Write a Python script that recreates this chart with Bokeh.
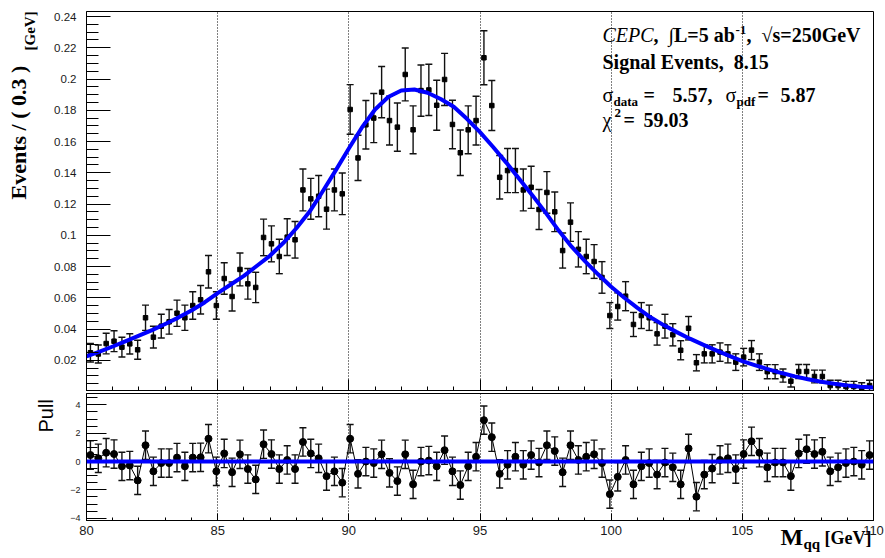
import numpy as np
from bokeh.plotting import figure
from bokeh.layouts import column
from bokeh.models import (Label, Span, Range1d, SingleIntervalTicker,
                          NumeralTickFormatter, ColumnDataSource,
                          CustomLabelingPolicy)
from bokeh.embed import file_html
from bokeh.resources import INLINE

# ---------------- data ----------------
bin_width = 0.3
mass_low = 80.0
mass_bins = np.round(mass_low + bin_width * (np.arange(100) + 0.5), 3)

events = [
    0.0248, 0.0240, 0.0307, 0.0322, 0.0284, 0.0305, 0.0267, 0.0472, 0.0348, 0.0418,
    0.0446, 0.0501, 0.0472, 0.0550, 0.0587, 0.0766, 0.0550, 0.0723, 0.0608, 0.0781,
    0.0689, 0.0666, 0.0986, 0.0945, 0.0864, 0.0988, 0.0971, 0.1290, 0.1233, 0.1250,
    0.1167, 0.1290, 0.1265, 0.1805, 0.1495, 0.1707, 0.1750, 0.1916, 0.1734, 0.1692,
    0.2029, 0.1675, 0.1926, 0.1930, 0.1832, 0.1997, 0.1709, 0.1528, 0.1675, 0.1734,
    0.2136, 0.1830, 0.1371, 0.1414, 0.1414, 0.1290, 0.1307, 0.1165, 0.1274, 0.1150,
    0.0902, 0.1084, 0.0910, 0.0864, 0.0832, 0.0730, 0.0486, 0.0544, 0.0610, 0.0429,
    0.0486, 0.0472, 0.0369, 0.0418, 0.0363, 0.0264, 0.0405, 0.0184, 0.0241, 0.0241,
    0.0252, 0.0241, 0.0188, 0.0220, 0.0265, 0.0188, 0.0127, 0.0127, 0.0102, 0.0066,
    0.0128, 0.0128, 0.0096, 0.0096, 0.0038, 0.0038, 0.0032, 0.0032, 0.0024, 0.0038,
]

errors = [
    0.0059, 0.0058, 0.0066, 0.0067, 0.0063, 0.0065, 0.0061, 0.0081, 0.0070, 0.0076,
    0.0079, 0.0084, 0.0081, 0.0088, 0.0091, 0.0104, 0.0088, 0.0101, 0.0093, 0.0105,
    0.0098, 0.0097, 0.0117, 0.0115, 0.0110, 0.0118, 0.0117, 0.0134, 0.0131, 0.0132,
    0.0128, 0.0134, 0.0133, 0.0159, 0.0145, 0.0155, 0.0157, 0.0164, 0.0156, 0.0154,
    0.0169, 0.0153, 0.0164, 0.0164, 0.0160, 0.0167, 0.0155, 0.0146, 0.0153, 0.0156,
    0.0173, 0.0160, 0.0139, 0.0141, 0.0141, 0.0134, 0.0135, 0.0128, 0.0133, 0.0127,
    0.0112, 0.0123, 0.0113, 0.0110, 0.0108, 0.0101, 0.0083, 0.0087, 0.0093, 0.0077,
    0.0083, 0.0081, 0.0072, 0.0076, 0.0071, 0.0061, 0.0075, 0.0052, 0.0058, 0.0058,
    0.0059, 0.0058, 0.0053, 0.0056, 0.0061, 0.0053, 0.0045, 0.0045, 0.0042, 0.0037,
    0.0045, 0.0045, 0.0041, 0.0041, 0.0034, 0.0034, 0.0033, 0.0033, 0.0032, 0.0034,
]

pulls = [
    0.46, 0.23, 0.62, 0.53, -0.34, -0.28, -1.33, 1.15, -0.69, -0.11,
    -0.11, 0.28, -0.34, 0.28, 0.30, 1.61, -0.69, 0.57, -0.76, 0.51,
    -0.53, -1.26, 1.22, 0.53, -0.53, 0.11, -0.53, 1.38, 0.57, 0.23,
    -1.03, -0.69, -1.49, 1.61, -0.87, 0.00, -0.11, 0.51, -0.80, -1.38,
    0.51, -1.61, 0.00, 0.07, -0.34, 0.80, -0.69, -1.66, -0.34, 0.34,
    2.92, 1.72, -0.87, -0.23, 0.34, -0.23, 0.46, -0.07, 1.15, 0.74,
    -0.76, 1.15, 0.11, 0.34, 0.51, -0.11, -2.30, -1.08, 0.11, -1.61,
    -0.34, -0.11, -0.92, -0.07, -0.41, -1.61, 0.92, -2.48, -0.92, -0.50,
    0.11, 0.23, -0.53, 0.53, 1.43, 0.62, -0.41, -0.07, -0.07, -1.03,
    0.57, 0.87, 0.53, 0.69, -0.69, -0.41, -0.11, 0.00, -0.23, 0.46,
]
pull_errors = [1.0] * 100

fit_mass = [
    80.0, 80.5, 81.0, 81.5, 82.0, 82.5, 83.0, 83.5, 84.0, 84.5,
    85.0, 85.5, 86.0, 86.5, 87.0, 87.5, 88.0, 88.5, 89.0, 89.5,
    90.0, 90.5, 91.0, 91.5, 92.0, 92.5, 93.0, 93.5, 94.0, 94.5,
    95.0, 95.5, 96.0, 96.5, 97.0, 97.5, 98.0, 98.5, 99.0, 99.5,
    100.0, 100.5, 101.0, 101.5, 102.0, 102.5, 103.0, 103.5, 104.0, 104.5,
    105.0, 105.5, 106.0, 106.5, 107.0, 107.5, 108.0, 108.5, 109.0, 109.5, 110.0,
]
fit_pdf = [
    0.0225, 0.0255, 0.0288, 0.0322, 0.0357, 0.0393, 0.0432, 0.0473, 0.0518, 0.0570,
    0.0630, 0.0685, 0.0740, 0.0805, 0.0870, 0.0950, 0.1045, 0.1150, 0.1280, 0.1415,
    0.1555, 0.1690, 0.1805, 0.1885, 0.1926, 0.1933, 0.1912, 0.1872, 0.1822, 0.1745,
    0.1660, 0.1565, 0.1465, 0.1360, 0.1255, 0.1145, 0.1030, 0.0925, 0.0835, 0.0750,
    0.0670, 0.0600, 0.0535, 0.0475, 0.0425, 0.0380, 0.0338, 0.0300, 0.0263, 0.0228,
    0.0195, 0.0167, 0.0142, 0.0118, 0.0097, 0.0078, 0.0062, 0.0049, 0.0039, 0.0031, 0.0026,
]

x_start, x_end = 80, 110
y_top_max = 0.2432
pull_min, pull_max = -4.16, 4.8

NB = "\u00a0"
SERIF = "Liberation Serif"
SANS = "Liberation Sans"

W = 884
TOP_H = 391       # 11 border + 380 frame
BOT_H = 166       # 2 border + 127 frame + 37 border
H = TOP_H + BOT_H
SHIFT = 0.4       # em offset between requested and drawn baseline


# ---------------- helpers ----------------
def style_axes(p, xmaj, xmin, ymaj, ymin):
    for ax in (p.xaxis[0], p.yaxis[0]):
        ax.axis_line_color = "black"
        ax.axis_line_width = 1
        ax.major_tick_line_color = "black"
        ax.minor_tick_line_color = "black"
        ax.major_tick_out = 0
        ax.minor_tick_out = 0
        ax.major_label_text_font = SANS
        ax.major_label_text_color = "#1a1a1a"
    p.xaxis.major_tick_in = xmaj
    p.xaxis.minor_tick_in = xmin
    p.yaxis.major_tick_in = ymaj
    p.yaxis.minor_tick_in = ymin
    p.xaxis.ticker = SingleIntervalTicker(interval=5, num_minor_ticks=5)
    p.xgrid.grid_line_color = "black"
    p.xgrid.grid_line_dash = "1 2"
    p.xgrid.grid_line_width = 1
    p.ygrid.visible = False
    p.outline_line_color = "black"
    p.outline_line_width = 1
    p.outline_line_alpha = 1
    p.background_fill_color = "white"
    p.border_fill_color = "white"


def add_text(p, text, x, y, size, font=SERIF, style="bold", vertical=False):
    # x, y: page pixels of the baseline start on the transparent overlay
    if vertical:
        x = x - SHIFT * size
        angle = np.pi / 2
    else:
        y = y - SHIFT * size
        angle = 0.0
    p.add_layout(Label(x=x, y=y, text=text,
                       text_font=font, text_font_size=f"{size}px",
                       text_font_style=style, angle=angle,
                       text_baseline="alphabetic", text_align="left",
                       text_color="black"))


# ---------------- top panel ----------------
src = ColumnDataSource(dict(
    x=mass_bins, y=events,
    lo=np.array(events) - np.array(errors),
    hi=np.array(events) + np.array(errors),
))

p1 = figure(frame_width=787, frame_height=380,
            x_range=Range1d(x_start, x_end), y_range=Range1d(0, y_top_max),
            output_backend="svg", toolbar_location=None,
            min_border_left=86, min_border_right=W - 86 - 787, min_border_top=11,
            min_border_bottom=0)
style_axes(p1, 12, 5, 24, 12)
p1.yaxis.ticker = SingleIntervalTicker(interval=0.02, num_minor_ticks=4)
p1.yaxis.formatter = NumeralTickFormatter(format="0.[00]")
p1.yaxis.major_label_text_font_size = "11.5px"
p1.yaxis.major_label_standoff = 10
# the "0" label is hidden behind the pull pad in the original
p1.yaxis.major_label_policy = CustomLabelingPolicy(
    code="indices.unset(0); return indices")
p1.xaxis.major_label_text_font_size = "0px"
p1.xaxis.major_label_standoff = 0
p1.xaxis.major_label_policy = CustomLabelingPolicy(
    code="for (const i of indices) indices.unset(i); return indices")

p1.segment(x0="x", y0="lo", x1="x", y1="hi", source=src, line_color="#111111", line_width=1.4)
p1.scatter(x="x", y="lo", source=src, marker="dash", size=7, line_color="#111111", line_width=1.4)
p1.scatter(x="x", y="hi", source=src, marker="dash", size=7, line_color="#111111", line_width=1.4)
p1.scatter(x="x", y="y", source=src, marker="square", size=4.5, color="black")
p1.line(fit_mass, fit_pdf, line_color="#0000ff", line_width=4, line_join="round")

# ---------------- pull panel ----------------
psrc = ColumnDataSource(dict(
    x=mass_bins, y=pulls,
    lo=np.array(pulls) - np.array(pull_errors),
    hi=np.array(pulls) + np.array(pull_errors),
))

p2 = figure(frame_width=787, frame_height=127,
            x_range=p1.x_range, y_range=Range1d(pull_min, pull_max),
            output_backend="svg", toolbar_location=None,
            min_border_left=86, min_border_right=W - 86 - 787, min_border_top=2,
            min_border_bottom=37)
style_axes(p2, 7, 3, 20, 11)
p2.yaxis.ticker = SingleIntervalTicker(interval=2, num_minor_ticks=4)
p2.yaxis.major_label_text_font_size = "9px"
p2.yaxis.major_label_standoff = 6
p2.xaxis.major_label_text_font_size = "13px"
p2.xaxis.major_label_standoff = 5

p2.segment(x0="x", y0="lo", x1="x", y1="hi", source=psrc, line_color="#111111", line_width=1.4)
p2.scatter(x="x", y="lo", source=psrc, marker="dash", size=7, line_color="#111111", line_width=1.4)
p2.scatter(x="x", y="hi", source=psrc, marker="dash", size=7, line_color="#111111", line_width=1.4)
p2.line(x="x", y="y", source=psrc, line_color="black", line_width=1)
p2.scatter(x="x", y="y", source=psrc, marker="circle", size=7, color="black")
p2.add_layout(Span(location=0, dimension="width", line_color="#0000ff", line_width=4))

# ---------------- transparent overlay for titles and info text ----------------
ov = figure(width=W, height=H, x_range=Range1d(0, W), y_range=Range1d(H, 0),
            x_axis_type=None, y_axis_type=None, output_backend="svg",
            toolbar_location=None, min_border=0,
            min_border_left=0, min_border_right=0, min_border_top=0, min_border_bottom=0,
            margin=(-H, 0, 0, 0))
try:
    ov.frame_align = False
except Exception:
    pass
ov.outline_line_color = None
ov.background_fill_color = None
ov.border_fill_color = None

# y titles
add_text(ov, "Events / ( 0.3 )", 26.7, 199, 22, vertical=True)
add_text(ov, "[GeV]", 35, 50, 15, vertical=True)
add_text(ov, "Pull", 53, 432, 20, font=SANS, style="normal", vertical=True)

# x title
add_text(ov, "M", 780, 546.5, 24)
add_text(ov, "qq", 803, 549, 15)
add_text(ov, "[GeV]", 824, 544.5, 18)

# info block
add_text(ov, "CEPC", 602, 42, 20, style="italic")
add_text(ov, "," + NB + NB + "\u222bL=5" + NB + "ab", 653, 42, 20)
add_text(ov, "-1", 735, 35, 13)
add_text(ov, "," + NB + NB + "\u221as=250GeV", 746, 42, 20)
add_text(ov, "Signal Events," + NB + NB + "8.15", 602, 69, 20)
add_text(ov, "\u03c3", 602, 102.5, 20, style="normal")
add_text(ov, "data", 613, 106.5, 13)
add_text(ov, "=", 643, 102.5, 20)
add_text(ov, "5.57,", 672, 102.5, 20)
add_text(ov, "\u03c3", 725, 102.5, 20, style="normal")
add_text(ov, "pdf", 736, 106.5, 13)
add_text(ov, "=", 757, 102.5, 20)
add_text(ov, "5.87", 780, 102.5, 20)
add_text(ov, "\u03c7", 602, 127, 20, style="normal")
add_text(ov, "2", 614, 118, 13)
add_text(ov, "=", 623, 127, 20)
add_text(ov, "59.03", 643, 127, 20)

layout = column(p1, p2, ov, spacing=0)
open("out.html", "w").write(file_html(layout, INLINE))
